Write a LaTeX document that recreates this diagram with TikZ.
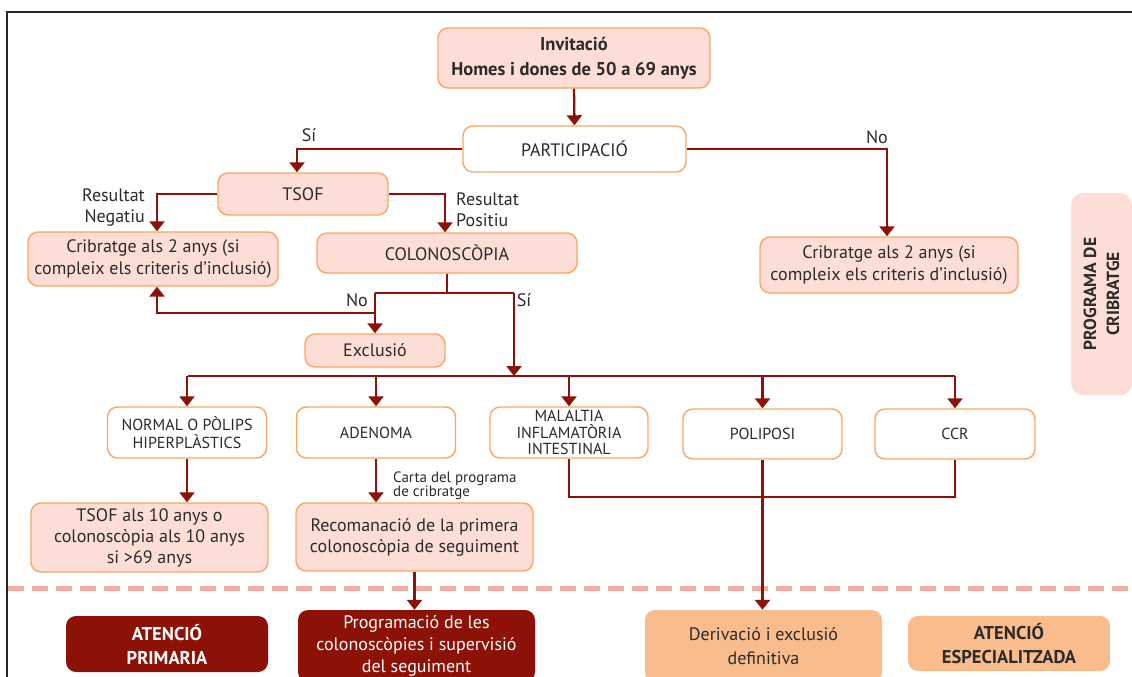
\documentclass[tikz,border=0pt]{standalone}
\usepackage{fontspec}
\setmainfont{PT Sans}
\usetikzlibrary{arrows.meta,calc}
\definecolor{pinkfill}{HTML}{FCDED6}
\definecolor{orborder}{HTML}{F8A760}
\definecolor{dred}{HTML}{8C1208}
\definecolor{derivfill}{HTML}{F9BD8D}
\definecolor{dashcol}{HTML}{F4ACA0}
\definecolor{txt}{HTML}{2B2B2B}
\tikzset{
  x=1pt,y=-1pt,
  base/.style={rounded corners=10pt, line width=1.4pt, draw=orborder, align=center, inner sep=0pt, text=txt, font=\fontsize{18}{22}\selectfont},
  pinkbox/.style={base, fill=pinkfill},
  whitebox/.style={base, fill=white},
  smallwhite/.style={whitebox, font=\fontsize{16}{18}\selectfont},
  darkbox/.style={rounded corners=10pt, fill=dred, text=white, align=center, inner sep=0pt, font=\fontsize{18}{22}\selectfont},
  orbox/.style={rounded corners=10pt, fill=derivfill, text=txt, align=center, inner sep=0pt, font=\fontsize{18}{24}\selectfont},
  conn/.style={draw=dred, line width=2.3pt},
  arr/.style={conn, -{Triangle[width=15pt,length=10pt]}},
  lbl/.style={text=txt, inner sep=0pt, font=\fontsize{18}{21}\selectfont},
  slbl/.style={text=txt, inner sep=0pt, align=left, font=\fontsize{15}{14}\selectfont},
}
\begin{document}
\begin{tikzpicture}
\path[use as bounding box] (0,0) rectangle (1132,677);
\fill[white] (0,0) rectangle (1132,677);
\draw[line width=1.3pt, black!85] (7,680) -- (7,12) -- (1135,12);

% dashed separator
\draw[dashcol, line width=5pt, dash pattern=on 16pt off 8pt] (8,588) -- (1132,588);

% nodes
\node[pinkbox, minimum width=272, minimum height=60, font=\bfseries\fontsize{18.5}{25}\selectfont] (inv) at (574,58) {Invitació\\Homes i dones de 50 a 69 anys};
\node[whitebox, minimum width=223, minimum height=46] (part) at (574.5,149) {PARTICIPACIÓ};
\node[pinkbox, minimum width=170, minimum height=42] (tsof) at (303,194) {TSOF};
\node[pinkbox, minimum width=250, minimum height=54] (cribL) at (153,259) {Cribratge als 2 anys (si\\compleix els criteris d’inclusió)};
\node[pinkbox, minimum width=260, minimum height=40] (colon) at (447,253) {COLONOSCÒPIA};
\node[pinkbox, minimum width=258, minimum height=56] (cribR) at (889,265) {Cribratge als 2 anys (si\\compleix els criteris d’inclusió)};
\node[pinkbox, minimum width=140, minimum height=33] (excl) at (375,350.5) {Exclusió};

\node[smallwhite, minimum width=159, minimum height=51] (norm) at (187,432.5) {NORMAL O PÒLIPS\\HIPERPLÀSTICS};
\node[smallwhite, minimum width=159, minimum height=51] (aden) at (376,432.5) {ADENOMA};
\node[smallwhite, minimum width=158, minimum height=51, font=\fontsize{16}{16.5}\selectfont] (mal) at (569,432.5) {MALALTIA\\INFLAMATÒRIA\\INTESTINAL};
\node[smallwhite, minimum width=159, minimum height=50] (pol) at (762.5,434) {POLIPOSI};
\node[smallwhite, minimum width=160, minimum height=50] (ccr) at (955,434) {CCR};

\node[pinkbox, minimum width=237, minimum height=69, font=\fontsize{18}{21}\selectfont] (t10) at (149.5,537.5) {TSOF als 10 anys o\\colonoscòpia als 10 anys\\si >69 anys};
\node[pinkbox, minimum width=237, minimum height=68, font=\fontsize{18}{21}\selectfont] (recom) at (414.5,537) {Recomanació de la primera\\colonoscòpia de seguiment};

\node[darkbox, minimum width=202, minimum height=56, font=\bfseries\fontsize{18.5}{24}\selectfont] (prim) at (167,644) {ATENCIÓ\\PRIMARIA};
\node[darkbox, minimum width=237, minimum height=72] (prog) at (416.5,646) {Programació de les\\colonoscòpies i supervisió\\del seguiment};
\node[orbox, minimum width=237, minimum height=72] (deriv) at (763.5,646) {Derivació i exclusió\\definitiva};
\node[orbox, minimum width=202, minimum height=55, font=\bfseries\fontsize{18.5}{24}\selectfont] (espec) at (1009,643.5) {ATENCIÓ\\ESPECIALITZADA};

\node[rounded corners=12pt, fill=pinkfill, rotate=90, minimum width=202, minimum height=61, inner sep=0pt, align=center, text=txt, font=\bfseries\fontsize{17.5}{23}\selectfont] (prgm) at (1101.5,294) {PROGRAMA DE\\CRIBRATGE};

% labels
\node[lbl] (lsi1) at (309,135) {Sí};
\node[lbl] (lno1) at (877,137) {No};
\node[lbl, align=right, anchor=east] (lneg) at (145,208) {Resultat\\Negatiu};
\node[lbl, align=left, anchor=west] (lpos) at (456,210) {Resultat\\Positiu};
\node[lbl] (lno2) at (357,300) {No};
\node[lbl] (lsi2) at (524,300) {Sí};
\node[slbl, anchor=west] (lcarta) at (393,485.5) {Carta del programa\\de cribratge};

% coordinates
\coordinate (jL) at (375,293);
\coordinate (jR) at (514,293);
\coordinate (jN) at (375,313);
\coordinate (busL) at (188,376);
\coordinate (busR) at (955,376);
\coordinate (jm) at (0,497);

% connectors
\draw[arr] (inv.south) -- (part.north);
\draw[arr] (part.west) -| ([xshift=-6pt]tsof.north);
\draw[arr] (part.east) -| ([xshift=-2pt]cribR.north);
\draw[arr] (tsof.west) -| ([xshift=4pt]cribL.north);
\draw[arr] (tsof.east) -| ([xshift=-2pt]colon.north);
\draw[conn] (colon.south) -- (colon.south |- jL);
\draw[conn] (jL) -- (jR);
\draw[arr] (jL) -- (excl.north);
\draw[arr] (jN) -| ([xshift=4pt]cribL.south);
\draw[arr] (jR) -- (jR |- busL);
\draw[conn] (busL) -- (busR);
\draw[arr] (norm.north |- busL) -- (norm.north);
\draw[arr] (aden.north |- busL) -- (aden.north);
\draw[arr] (mal.north |- busL) -- (mal.north);
\draw[arr] (pol.north |- busL) -- (pol.north);
\draw[arr] (ccr.north |- busL) -- (ccr.north);
\draw[arr] (norm.south) -- (norm.south |- t10.north);
\draw[arr] (aden.south) -- (aden.south |- recom.north);
\draw[arr] (recom.south) -- (recom.south |- prog.north);
\draw[conn] (mal.south) -- (mal.south |- jm) -- (ccr.south |- jm) -- (ccr.south);
\draw[arr] (pol.south) -- (pol.south |- deriv.north);
\end{tikzpicture}
\end{document}
